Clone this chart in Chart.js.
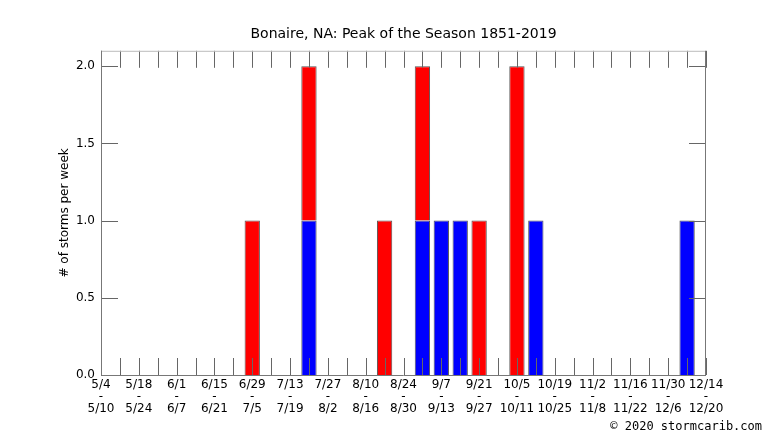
<!DOCTYPE html>
<html>
<head>
<meta charset="utf-8">
<script src="https://cdn.jsdelivr.net/npm/chart.js@4"></script>
<style>
  body { margin: 0; background: #fff; }
  #wrap { position: relative; width: 766px; height: 431px; }
  #copy {
    position: absolute; right: 4px; top: 419px;
    font: 12px "DejaVu Sans Mono", monospace; color: #000;
  }
</style>
</head>
<body>
<div id="wrap">
  <canvas id="peak" width="766" height="431"></canvas>
  <div id="copy">© 2020 stormcarib.com</div>
</div>
<script>
// week start / end for each bin, 5/4 .. 12/20
var weekStart = ['5/4', '5/11', '5/18', '5/25', '6/1', '6/8', '6/15', '6/22', '6/29', '7/6',
  '7/13', '7/20', '7/27', '8/3', '8/10', '8/17', '8/24', '8/31', '9/7', '9/14', '9/21',
  '9/28', '10/5', '10/12', '10/19', '10/26', '11/2', '11/9', '11/16', '11/23', '11/30',
  '12/7', '12/14'];
var weekEnd = ['5/10', '5/17', '5/24', '5/31', '6/7', '6/14', '6/21', '6/28', '7/5', '7/12',
  '7/19', '7/26', '8/2', '8/9', '8/16', '8/23', '8/30', '9/6', '9/13', '9/20', '9/27',
  '10/4', '10/11', '10/18', '10/25', '11/1', '11/8', '11/15', '11/22', '11/29', '12/6',
  '12/13', '12/20'];

// storms per week (stacked: blue at bottom, red on top)
var blueStorms = [null, null, null, null, null, null, null, null, null, null,
  null, 1, null, null, null, null, null, 1, 1, 1, null,
  null, null, 1, null, null, null, null, null, null, null,
  1, null];
var redStorms = [null, null, null, null, null, null, null, null, 1, null,
  null, 1, null, null, null, 1, null, 1, null, null, 1,
  null, 2, null, null, null, null, null, null, null, null,
  null, null];

var yTicks = [0, 0.5, 1, 1.5, 2];

var axisFont = { family: 'DejaVu Sans', size: 12, lineHeight: 1 };

// frame and inward tick marks, drawn over the bars
var frameTicks = {
  id: 'frameTicks',
  afterDatasetsDraw: function (chart) {
    var ctx = chart.ctx, a = chart.chartArea;
    var xs = chart.scales.x, ys = chart.scales.y;
    var len = 17;
    ctx.save();
    ctx.lineWidth = 1;
    ctx.strokeStyle = '#666';
    for (var i = 0; i < weekStart.length; i++) {
      var px = Math.round(xs.getPixelForValue(i)) + 0.5;
      ctx.beginPath();
      ctx.moveTo(px, a.top); ctx.lineTo(px, a.top + len);
      ctx.moveTo(px, a.bottom); ctx.lineTo(px, a.bottom - len);
      ctx.stroke();
    }
    yTicks.forEach(function (v) {
      var py = Math.round(ys.getPixelForValue(v)) + 0.5;
      ctx.beginPath();
      ctx.moveTo(a.left, py); ctx.lineTo(a.left + len, py);
      ctx.moveTo(a.right, py); ctx.lineTo(a.right - len, py);
      ctx.stroke();
    });
    ctx.strokeStyle = '#bbb';
    ctx.beginPath();
    ctx.moveTo(a.left, a.top + 0.5); ctx.lineTo(a.right, a.top + 0.5);
    ctx.stroke();
    ctx.strokeStyle = '#777';
    ctx.beginPath();
    ctx.moveTo(a.left + 0.5, a.top); ctx.lineTo(a.left + 0.5, a.bottom + 0.5);
    ctx.lineTo(a.right - 0.5, a.bottom + 0.5); ctx.lineTo(a.right - 0.5, a.top);
    ctx.stroke();
    ctx.restore();
  }
};

new Chart(document.getElementById('peak'), {
  type: 'bar',
  data: {
    labels: weekStart,
    datasets: [
      { label: 'blue', data: blueStorms, backgroundColor: '#0000ff', borderColor: '#555', borderWidth: 1 },
      { label: 'red', data: redStorms, backgroundColor: '#ff0000', borderColor: '#555', borderWidth: 1 }
    ]
  },
  options: {
    responsive: false,
    animation: false,
    devicePixelRatio: 1,
    layout: { padding: { left: 0, right: 60, top: 0, bottom: 0 } },
    datasets: { bar: { barPercentage: 0.81, categoryPercentage: 1 } },
    plugins: {
      legend: { display: false },
      tooltip: { enabled: false },
      title: {
        display: true,
        text: 'Bonaire, NA: Peak of the Season 1851-2019',
        color: '#000',
        fullSize: false,
        font: { family: 'DejaVu Sans', size: 14, weight: 'normal', lineHeight: 1.2 },
        padding: { top: 26, bottom: 8 }
      }
    },
    scales: {
      x: {
        stacked: true,
        offset: false,
        grid: { display: false, drawTicks: false },
        border: { display: false },
        afterFit: function (s) { s.height = 56; },
        ticks: {
          autoSkip: false,
          maxRotation: 0,
          minRotation: 0,
          padding: 4,
          color: '#000',
          font: axisFont,
          callback: function (v, i) {
            return i % 2 === 0 ? [weekStart[i], '-', weekEnd[i]] : '';
          }
        }
      },
      y: {
        stacked: true,
        min: 0,
        max: 2.1,
        grid: { display: false, drawTicks: false },
        border: { display: false },
        afterFit: function (s) { s.width = 101; },
        afterBuildTicks: function (s) {
          s.ticks = yTicks.map(function (v) { return { value: v }; });
        },
        ticks: {
          padding: 6,
          color: '#000',
          font: axisFont,
          callback: function (v) { return v.toFixed(1); }
        },
        title: {
          display: true,
          text: '# of storms per week',
          color: '#000',
          font: { family: 'DejaVu Sans', size: 12, lineHeight: 1.2 },
          padding: { top: 58, bottom: 0 }
        }
      }
    }
  },
  plugins: [frameTicks]
});
</script>
</body>
</html>
